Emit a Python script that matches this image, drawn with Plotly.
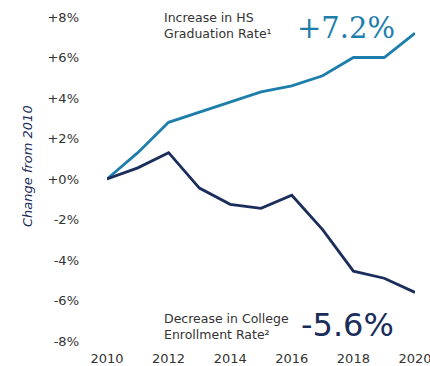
import plotly.graph_objects as go

years = [2010, 2011, 2012, 2013, 2014, 2015, 2016, 2017, 2018, 2019, 2020]
hs_graduation = [0.0, 1.3, 2.8, 3.3, 3.8, 4.3, 4.6, 5.1, 6.0, 6.0, 7.2]
college_enrollment = [0.0, 0.55, 1.3, -0.45, -1.25, -1.45, -0.8, -2.5, -4.55, -4.9, -5.6]
y_ticks = [-8, -6, -4, -2, 0, 2, 4, 6, 8]
y_tick_labels = ["-8%", "-6%", "-4%", "-2%", "+0%", "+2%", "+4%", "+6%", "+8%"]
x_ticks = [2010, 2012, 2014, 2016, 2018, 2020]

TEAL = "#1d7eab"
NAVY = "#1b2d5b"
TEXT = "#333333"

W, H = 430, 366
L, R, T, B = 107, 15, 17, 25


def paper(px, py):
    """Convert page pixel coordinates to paper coordinates."""
    return (px - L) / (W - L - R), (H - B - py) / (H - T - B)


def pct(v):
    return f"{v:+.1f}%" if v > 0 else f"{v:.1f}%"


fig = go.Figure()
fig.add_trace(go.Scatter(x=years, y=hs_graduation, mode="lines",
                         line=dict(color=TEAL, width=2.8), hoverinfo="skip"))
fig.add_trace(go.Scatter(x=years, y=college_enrollment, mode="lines",
                         line=dict(color=NAVY, width=2.8), hoverinfo="skip"))

annotations = []


def note(px, py, text, font, xanchor="left", yanchor="middle", angle=0):
    x, y = paper(px, py)
    annotations.append(dict(x=x, y=y, xref="paper", yref="paper", xanchor=xanchor,
                            yanchor=yanchor, align="left", showarrow=False,
                            text=text, textangle=angle, font=font))


note(162, 25, "Increase in HS<br>Graduation Rate¹",
     dict(family="DejaVu Sans", size=12.5, color=TEXT))
note(295, 28, pct(hs_graduation[-1]),
     dict(family="DejaVu Serif", size=29, color=TEAL))
note(162, 326, "Decrease in College<br>Enrollment Rate²",
     dict(family="DejaVu Sans", size=12.5, color=TEXT))
note(299, 325, pct(college_enrollment[-1]),
     dict(family="DejaVu Sans", size=32, color=NAVY))
note(27, 166, "<i>Change from 2010</i>",
     dict(family="DejaVu Sans", size=13, color=NAVY), xanchor="center", angle=-90)

fig.update_layout(
    width=W, height=H,
    margin=dict(l=L, r=R, t=T, b=B),
    paper_bgcolor="white", plot_bgcolor="white",
    showlegend=False,
    font=dict(family="DejaVu Sans", size=13, color=TEXT),
    annotations=annotations,
    xaxis=dict(range=[2010, 2020], tickvals=x_ticks, showgrid=False, zeroline=False,
               showline=False, ticks="", ticklabelstandoff=8, automargin=False,
               ticklabeloverflow="allow",
               tickfont=dict(family="DejaVu Sans", size=13, color=TEXT), fixedrange=True),
    yaxis=dict(range=[-8, 8], tickvals=y_ticks, ticktext=y_tick_labels, showgrid=False,
               zeroline=False, showline=False, ticks="", ticklabelstandoff=27,
               automargin=False, ticklabeloverflow="allow",
               tickfont=dict(family="DejaVu Sans", size=13, color=TEXT), fixedrange=True),
)

fig.write_html("out.html", config=dict(displayModeBar=False))
